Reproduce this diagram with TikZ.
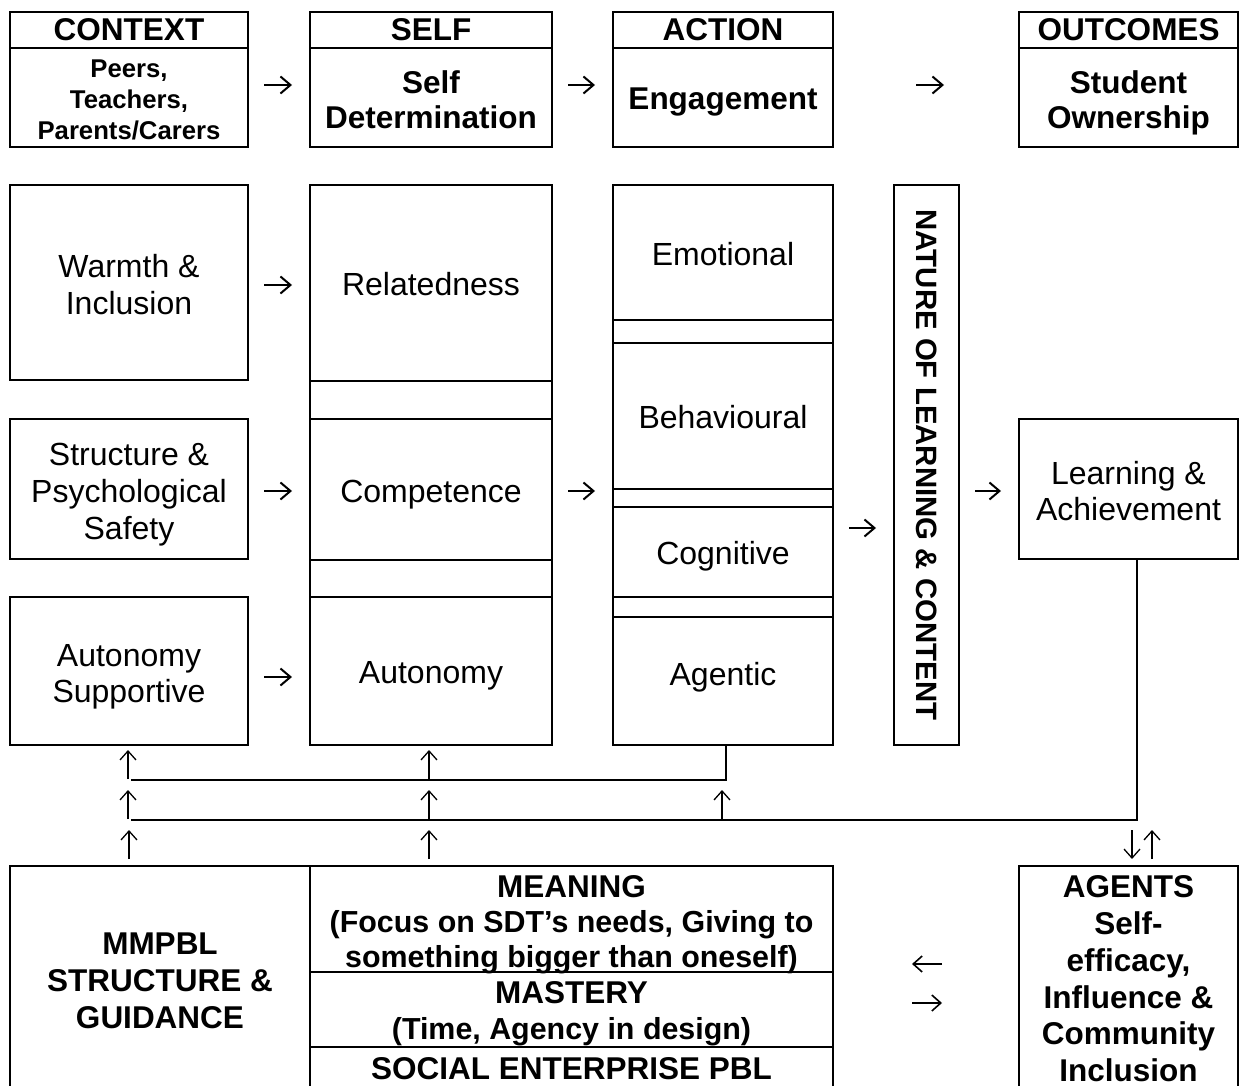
\documentclass[tikz,border=0pt]{standalone}
\usepackage{fontspec}
\setmainfont{Liberation Sans}
\usetikzlibrary{arrows.meta,calc}
\newcommand{\wstrut}{\vrule height \dimexpr0.905em+3pt\relax depth 0.212em width 0pt}
\newcommand{\mltop}{\vrule height \dimexpr0.905em+5pt\relax depth 0pt width 0pt}
\newcommand{\mlbot}{\vrule height 0pt depth 0.212em width 0pt}
\begin{document}
\begin{tikzpicture}[x=1pt,y=-1pt,
  box/.style={draw, line width=2pt, inner sep=0pt, outer sep=0pt, align=center, anchor=north west},
  txt/.style={inner sep=0pt, align=center},
  st/.style={execute at begin node=\wstrut, execute at end node=\wstrut},
  nf/.style={font=\fontsize{32}{36.8}\selectfont},
  bf/.style={font=\fontsize{31.5}{36.8}\selectfont\bfseries},
  sf/.style={font=\fontsize{25.7}{31}\selectfont\bfseries},
  pf/.style={font=\fontsize{30.4}{35}\selectfont\bfseries},
  harr/.style={line width=2pt, -{Straight Barb[length=10pt,width=17pt]}},
  barr/.style={line width=1.6pt, -{Straight Barb[length=9pt,width=16pt]}},
  varr/.style={line width=1.3pt, -{Straight Barb[length=9pt,width=16pt]}},
  fb/.style={line width=1.3pt}]
\useasboundingbox (0,0) rectangle (1240,1086);
\clip (0,0) rectangle (1240,1086);
% ---------- top row ----------
\node[box, bf, minimum width=238, minimum height=36] (ctxH) at (10,12) {CONTEXT};
\node[box, sf, minimum width=238, minimum height=99] (ctxB) at (10,48) {\mltop Peers,\\Teachers,\\Parents/Carers\mlbot};
\node[box, bf, minimum width=242, minimum height=36] (selfH) at (310,12) {SELF};
\node[box, minimum width=242, minimum height=99, font=\fontsize{31.5}{35}\selectfont\bfseries] (selfB) at (310,48) {\mltop Self\\Determination\mlbot};
\node[box, bf, minimum width=220, minimum height=36] (actH) at (613,12) {ACTION};
\node[box, st, bf, minimum width=220, minimum height=99] (actB) at (613,48) {Engagement};
\node[box, bf, minimum width=219, minimum height=36] (outH) at (1019,12) {OUTCOMES};
\node[box, minimum width=219, minimum height=99, font=\fontsize{31.5}{35}\selectfont\bfseries] (outB) at (1019,48) {\mltop Student\\Ownership\mlbot};
% ---------- context column ----------
\node[box, nf, minimum width=238, minimum height=195] (warm) at (10,185) {\mltop Warmth \&\\Inclusion\mlbot};
\node[box, nf, minimum width=238, minimum height=140] (struct) at (10,419) {\mltop Structure \&\\Psychological\\Safety\mlbot};
\node[box, nf, minimum width=238, minimum height=148] (autsup) at (10,597) {\mltop Autonomy\\Supportive\mlbot};
% ---------- self column ----------
\node[box, minimum width=242, minimum height=560] (selfcol) at (310,185) {};
\node[box, st, nf, minimum width=242, minimum height=196] (rel) at (310,185) {Relatedness};
\node[box, st, nf, minimum width=242, minimum height=141] (comp) at (310,419) {Competence};
\node[box, st, nf, minimum width=242, minimum height=148] (aut) at (310,597) {Autonomy};
% ---------- action column ----------
\node[box, minimum width=220, minimum height=560] (actcol) at (613,185) {};
\node[box, st, nf, minimum width=220, minimum height=135] (emo) at (613,185) {Emotional};
\node[box, st, nf, minimum width=220, minimum height=146] (beh) at (613,343) {Behavioural};
\node[box, st, nf, minimum width=220, minimum height=90] (cog) at (613,507) {Cognitive};
\node[box, st, nf, minimum width=220, minimum height=128] (agn) at (613,617) {\raisebox{8pt}{Agentic}};
% ---------- nature column ----------
\node[box, minimum width=65, minimum height=560] (nat) at (894,185) {};
\node[rotate=-90, inner sep=0pt, font=\fontsize{29.4}{34}\selectfont\bfseries] (natlbl) at (nat.center) {NATURE OF LEARNING \& CONTENT};
% ---------- outcomes ----------
\node[box, nf, minimum width=219, minimum height=140] (learn) at (1019,419) {\mltop Learning \&\\Achievement\mlbot};
% ---------- bottom row ----------
\node[box, bf, minimum width=300, minimum height=224] (mm) at (10,866) {\mltop MMPBL\\STRUCTURE \&\\GUIDANCE\mlbot};
\node[box, minimum width=523, minimum height=106] (meaning) at (310,866) {};
\node[txt, pf] (meaningtxt) at ($(meaning.center)+(0,6)$) {\fontsize{31.5}{35}\selectfont MEANING\\(Focus on SDT’s needs, Giving to\\something bigger than oneself)\mlbot};
\node[box, minimum width=523, minimum height=75] (mastery) at (310,972) {};
\node[txt, font=\fontsize{30.4}{36}\selectfont\bfseries] (masterytxt) at ($(mastery.center)+(0,4)$) {\fontsize{31.5}{36}\selectfont MASTERY\\(Time, Agency in design)\mlbot};
\node[box, bf, minimum width=523, minimum height=43] (social) at (310,1047) {SOCIAL ENTERPRISE PBL};
\node[box, minimum width=219, minimum height=224] (agents) at (1019,866) {};
\node[txt, bf] (agentstxt) at ($(agents.center)+(0,4)$) {AGENTS\\Self-\\efficacy,\\Influence \&\\Community\\Inclusion\mlbot};
% ---------- horizontal arrows ----------
\draw[harr] ($(ctxB.east|-0,85)+(16,0)$) -- ($(selfB.west|-0,85)+(-18,0)$);
\draw[harr] ($(selfB.east|-0,85)+(16,0)$) -- ($(actB.west|-0,85)+(-18,0)$);
\draw[harr] ($(actB.east|-0,85)+(83,0)$) -- ($(outB.west|-0,85)+(-75,0)$);
\draw[harr] ($(warm.east|-0,285)+(16,0)$) -- ($(rel.west|-0,285)+(-18,0)$);
\draw[harr] ($(struct.east|-0,491)+(16,0)$) -- ($(comp.west|-0,491)+(-18,0)$);
\draw[harr] ($(autsup.east|-0,677)+(16,0)$) -- ($(aut.west|-0,677)+(-18,0)$);
\draw[harr] ($(comp.east|-0,491)+(16,0)$) -- ($(beh.west|-0,491)+(-18,0)$);
\draw[harr] ($(actcol.east|-0,528)+(16,0)$) -- ($(nat.west|-0,528)+(-18,0)$);
\draw[harr] ($(nat.east|-0,491)+(16,0)$) -- ($(learn.west|-0,491)+(-18,0)$);
% bottom pair
\draw[barr] ($(agents.west|-0,964)+(-77,0)$) -- ($(meaning.east|-0,964)+(79,0)$);
\draw[barr] ($(social.east|-0,1003)+(79,0)$) -- ($(agents.west|-0,1003)+(-77,0)$);
% ---------- feedback lines ----------
\coordinate (fbA) at ($(autsup.south)+(2,35)$);
\coordinate (fbB) at ($(autsup.south)+(2,75)$);
\draw[fb] ($(agn.south)+(3,0)$) |- (fbA);
\draw[fb] ($(learn.south)+(8.5,0)$) |- (fbB);
% ---------- vertical arrows ----------
\draw[varr] ($(autsup.south)+(-1,34)$) -- ($(autsup.south)+(-1,5)$);
\draw[varr] ($(aut.south)+(-2,34)$) -- ($(aut.south)+(-2,5)$);
\draw[varr] ($(autsup.south)+(-1,74)$) -- ($(autsup.south)+(-1,45)$);
\draw[varr] ($(aut.south)+(-2,74)$) -- ($(aut.south)+(-2,45)$);
\draw[varr] ($(agn.south)+(-1,74)$) -- ($(agn.south)+(-1,45)$);
\draw[varr] ($(mm.north)+(-31,-7)$) -- ($(mm.north)+(-31,-36)$);
\draw[varr] ($(aut.south)+(-2,114)$) -- ($(aut.south)+(-2,85)$);
\draw[varr] ($(agents.north)+(3.5,-36)$) -- ($(agents.north)+(3.5,-7)$);
\draw[varr] ($(agents.north)+(23.5,-7)$) -- ($(agents.north)+(23.5,-36)$);
\end{tikzpicture}
\end{document}
